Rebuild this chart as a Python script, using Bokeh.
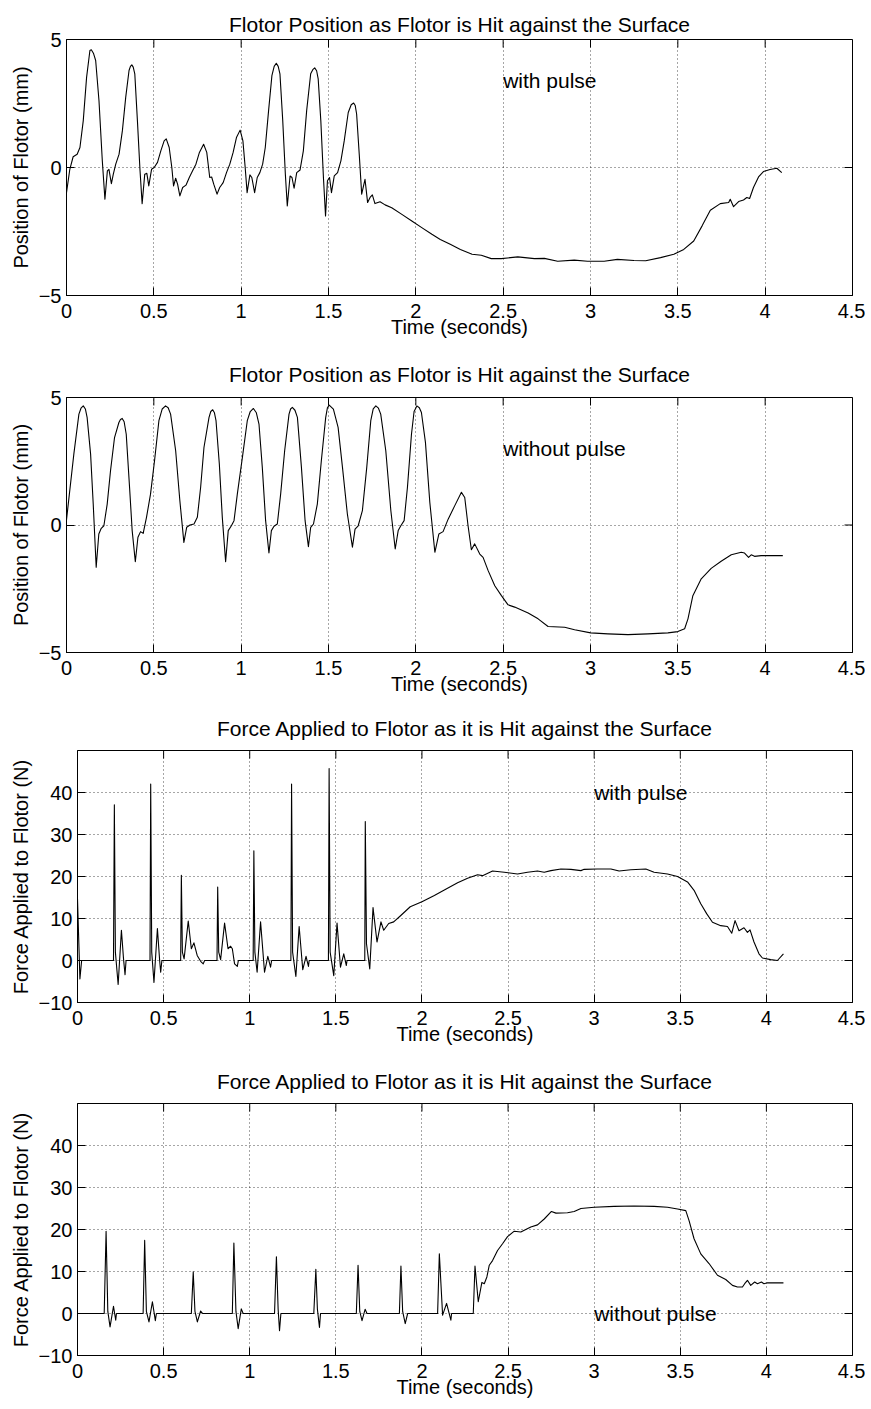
import math
from bokeh.plotting import figure
from bokeh.layouts import column
from bokeh.models import FixedTicker, Range1d, Label
from bokeh.embed import file_html
from bokeh.resources import INLINE

FONT = "Liberation Sans"

# ---------------- data (time in s, value) ----------------
pos_pulse = [
    (0.000, -0.98), (0.019, -0.07), (0.038, 0.42), (0.061, 0.52), (0.077, 0.78), (0.096, 1.83),
    (0.115, 3.52), (0.134, 4.57), (0.142, 4.60), (0.155, 4.45), (0.167, 4.18), (0.186, 2.61), (0.205, 0.26),
    (0.220, -1.24), (0.234, -0.13), (0.243, -0.07), (0.257, -0.63), (0.268, -0.26), (0.282, 0.13),
    (0.301, 0.52), (0.320, 1.44), (0.339, 2.74), (0.358, 3.79), (0.366, 3.95), (0.374, 4.01), (0.382, 3.92),
    (0.391, 3.66),
    (0.406, 1.83), (0.421, -0.13), (0.433, -1.41), (0.448, -0.26), (0.460, -0.23), (0.471, -0.72),
    (0.487, -0.07), (0.502, 0.00), (0.521, 0.20), (0.540, 0.65), (0.559, 1.04), (0.571, 1.12),
    (0.588, 0.78), (0.603, 0.00), (0.613, -0.72), (0.625, -0.42), (0.636, -0.65), (0.649, -1.11),
    (0.665, -0.78), (0.684, -0.69), (0.703, -0.39), (0.722, -0.13), (0.741, 0.13), (0.761, 0.59),
    (0.785, 0.91), (0.803, 0.59), (0.820, -0.39), (0.831, -0.37), (0.843, -0.65), (0.862, -1.04),
    (0.877, -0.78), (0.897, -0.59), (0.916, -0.20), (0.935, 0.13), (0.954, 0.59), (0.973, 1.17),
    (0.994, 1.46), (1.010, 1.04), (1.023, 0.00), (1.034, -0.98), (1.050, -0.29), (1.061, -0.39),
    (1.077, -0.98), (1.092, -0.39), (1.107, -0.20), (1.123, 0.13), (1.138, 0.78), (1.157, 2.22),
    (1.176, 3.59), (1.189, 3.95), (1.201, 4.07), (1.212, 3.95), (1.222, 3.66), (1.238, 1.83),
    (1.253, -0.26), (1.264, -1.50),
    (1.280, -0.33), (1.291, -0.39), (1.303, -0.81), (1.318, -0.20), (1.337, -0.10), (1.356, 0.65),
    (1.375, 2.22), (1.398, 3.66), (1.410, 3.82), (1.421, 3.89), (1.432, 3.78), (1.441, 3.46),
    (1.456, 1.83), (1.471, -0.39),
    (1.483, -1.89), (1.494, -0.52), (1.506, -0.39), (1.517, -0.98), (1.533, -0.33), (1.552, -0.20),
    (1.571, 0.26), (1.590, 1.04), (1.613, 2.15), (1.630, 2.45), (1.644, 2.52), (1.653, 2.42),
    (1.661, 2.09), (1.676, 0.52),
    (1.690, -1.04), (1.709, -0.46), (1.724, -1.37), (1.738, -1.17), (1.751, -1.07), (1.766, -1.41),
    (1.795, -1.34), (1.824, -1.46), (1.862, -1.57), (1.920, -1.83), (1.977, -2.09), (2.034, -2.35),
    (2.092, -2.61), (2.140, -2.81), (2.197, -3.00), (2.255, -3.20), (2.322, -3.39), (2.375, -3.43),
    (2.432, -3.56), (2.489, -3.56), (2.584, -3.49), (2.679, -3.56), (2.736, -3.55), (2.812, -3.66),
    (2.907, -3.62), (2.983, -3.66), (3.078, -3.66), (3.154, -3.59), (3.249, -3.63), (3.316, -3.64),
    (3.401, -3.52), (3.477, -3.39), (3.534, -3.20), (3.591, -2.87), (3.639, -2.28), (3.686, -1.67),
    (3.743, -1.41), (3.791, -1.37), (3.800, -1.24), (3.819, -1.53), (3.848, -1.33), (3.876, -1.27),
    (3.895, -1.17), (3.911, -1.21), (3.933, -0.78), (3.962, -0.37), (3.990, -0.16), (4.028, -0.08),
    (4.067, -0.03), (4.095, -0.20),
]

pos_nopulse = [
    (0.000, 0.20), (0.042, 2.78), (0.071, 4.35), (0.083, 4.58), (0.096, 4.67), (0.108, 4.55),
    (0.118, 4.22), (0.138, 2.78),
    (0.153, 0.82), (0.170, -1.66), (0.185, -0.35), (0.199, -0.13), (0.214, -0.03), (0.233, 0.82),
    (0.252, 2.13), (0.275, 3.43), (0.300, 4.02), (0.309, 4.14), (0.319, 4.18), (0.330, 4.05),
    (0.342, 3.56), (0.361, 1.48),
    (0.376, -0.22), (0.394, -1.44), (0.409, -0.48), (0.424, -0.26), (0.439, -0.33), (0.458, 0.30),
    (0.481, 1.21), (0.504, 2.52), (0.529, 4.09), (0.548, 4.55), (0.567, 4.67), (0.582, 4.60),
    (0.596, 4.35), (0.625, 2.91),
    (0.649, 0.95), (0.672, -0.68), (0.688, -0.09), (0.707, 0.00), (0.730, 0.04), (0.749, 0.30),
    (0.768, 1.48), (0.787, 3.04), (0.816, 4.22), (0.826, 4.45), (0.837, 4.52), (0.847, 4.40),
    (0.856, 4.09), (0.875, 2.39),
    (0.892, 0.30), (0.911, -1.44), (0.926, -0.22), (0.944, -0.03), (0.959, 0.17), (0.978, 1.21),
    (1.007, 2.65), (1.035, 4.09), (1.052, 4.45), (1.070, 4.57), (1.087, 4.40), (1.102, 3.96),
    (1.121, 2.26), (1.140, 0.17),
    (1.159, -1.10), (1.173, -0.22), (1.188, -0.05), (1.207, 0.04), (1.226, 1.21), (1.249, 2.91),
    (1.274, 4.35), (1.283, 4.55), (1.293, 4.61), (1.308, 4.50), (1.322, 4.22), (1.345, 2.26),
    (1.366, 0.17), (1.385, -0.85),
    (1.398, -0.09), (1.414, 0.04), (1.436, 0.82), (1.459, 2.52), (1.484, 4.22), (1.494, 4.60),
    (1.504, 4.70),
    (1.528, 4.54), (1.555, 3.83), (1.580, 2.26), (1.608, 0.43), (1.637, -0.87), (1.652, -0.16),
    (1.670, -0.03), (1.694, 0.56), (1.719, 2.26), (1.742, 4.09), (1.756, 4.55), (1.771, 4.67),
    (1.786, 4.58), (1.799, 4.35),
    (1.828, 2.91), (1.857, 0.56), (1.882, -0.94), (1.899, -0.22), (1.914, -0.03), (1.933, 0.17),
    (1.952, 1.48), (1.975, 3.56), (1.990, 4.45), (2.006, 4.67), (2.020, 4.60), (2.032, 4.41),
    (2.055, 3.24), (2.080, 0.89),
    (2.109, -1.07), (2.132, -0.35), (2.156, -0.26), (2.185, 0.23), (2.223, 0.76), (2.261, 1.28),
    (2.280, 1.08), (2.299, -0.03), (2.318, -0.97), (2.337, -0.74), (2.366, -1.14), (2.385, -1.27),
    (2.414, -1.79), (2.452, -2.38), (2.490, -2.77), (2.528, -3.13), (2.566, -3.22), (2.643, -3.45),
    (2.700, -3.68), (2.757, -3.98), (2.852, -4.01), (2.909, -4.11), (3.001, -4.23), (3.100, -4.27),
    (3.214, -4.30), (3.329, -4.27), (3.443, -4.23), (3.500, -4.18), (3.539, -4.07), (3.558, -3.68),
    (3.586, -2.77), (3.634, -2.11), (3.691, -1.70), (3.748, -1.42), (3.806, -1.17), (3.863, -1.07),
    (3.882, -1.10), (3.905, -1.27), (3.920, -1.17), (3.939, -1.23), (3.977, -1.20), (4.101, -1.20),
]

force_pulse = [
    (0.000, 14.7), (0.014, -4.4), (0.024, 0.0), (0.209, 0.0), (0.214, 37.1), (0.220, 2.0),
    (0.236, -5.7), (0.255, 7.2), (0.267, 0.5), (0.276, -3.4), (0.282, 0.0), (0.421, 0.0),
    (0.425, 42.0), (0.431, 2.0), (0.444, -5.2), (0.464, 7.6), (0.477, 0.0), (0.483, -2.8),
    (0.490, 0.0), (0.599, 0.0), (0.603, 20.3), (0.609, 2.0), (0.619, 0.4), (0.643, 9.4),
    (0.661, 2.8), (0.676, 4.2), (0.695, 1.2), (0.715, -0.2), (0.730, -0.8), (0.738, 0.0),
    (0.810, 0.0), (0.814, 17.5), (0.820, 2.0), (0.831, 0.2), (0.854, 8.9), (0.874, 2.8),
    (0.889, 3.4), (0.899, 2.8), (0.912, -0.8), (0.928, -1.4), (0.934, 0.0), (1.020, 0.0),
    (1.024, 26.1), (1.030, 2.0), (1.043, -2.8), (1.063, 9.2), (1.086, -2.8), (1.105, 1.0),
    (1.121, -1.6), (1.127, 0.0), (1.239, 0.0), (1.243, 42.0), (1.249, 2.0), (1.268, -3.8),
    (1.287, 8.1), (1.308, -2.2), (1.327, 1.0), (1.341, -1.4), (1.345, 0.0), (1.457, 0.0),
    (1.461, 45.7), (1.467, 2.0), (1.488, -3.6), (1.507, 8.9), (1.527, -1.6), (1.546, 1.6),
    (1.561, -1.2), (1.565, 0.0), (1.668, 0.0), (1.671, 33.1), (1.678, 4.0), (1.697, -2.0),
    (1.716, 12.6), (1.739, 4.4), (1.762, 9.2), (1.778, 7.2), (1.807, 8.8), (1.836, 9.2),
    (1.874, 10.6), (1.932, 12.8), (2.000, 14.0), (2.072, 15.5), (2.130, 16.8), (2.207, 18.5),
    (2.265, 19.6), (2.323, 20.4), (2.352, 20.2), (2.410, 21.3), (2.478, 21.0), (2.555, 20.6),
    (2.613, 21.0), (2.671, 21.3), (2.710, 21.0), (2.749, 21.4), (2.807, 21.8), (2.865, 21.7),
    (2.923, 21.4), (2.942, 21.7), (3.019, 21.8), (3.097, 21.8), (3.145, 21.3), (3.213, 21.6),
    (3.300, 21.8), (3.348, 21.0), (3.426, 20.6), (3.484, 20.0), (3.542, 18.7), (3.580, 16.7),
    (3.619, 13.5), (3.654, 11.1), (3.687, 9.1), (3.735, 8.3), (3.774, 8.1), (3.799, 6.5),
    (3.818, 9.5), (3.841, 7.1), (3.870, 7.8), (3.890, 6.7), (3.905, 7.3), (3.928, 4.4),
    (3.957, 1.6), (3.977, 0.6), (4.025, 0.2), (4.064, 0.0), (4.099, 1.6),
]

force_nopulse = [
    (0.000, 0.0), (0.155, 0.0), (0.166, 19.6), (0.176, 0.5), (0.189, -3.2), (0.209, 1.7),
    (0.222, -1.6), (0.226, 0.0), (0.381, 0.0), (0.390, 17.4), (0.400, 0.5), (0.415, -2.0),
    (0.435, 2.8), (0.452, -1.7), (0.458, 0.0), (0.661, 0.0), (0.672, 9.9), (0.682, 0.5),
    (0.696, -2.0), (0.715, 0.6), (0.727, 0.0), (0.899, 0.0), (0.908, 16.8), (0.920, 0.5),
    (0.933, -3.6), (0.951, 1.1), (0.962, 0.0), (1.144, 0.0), (1.155, 13.5), (1.165, 1.0),
    (1.173, -4.1), (1.181, 0.0), (1.372, 0.0), (1.384, 10.5), (1.393, 1.0), (1.405, -3.3),
    (1.411, 0.0), (1.619, 0.0), (1.629, 11.5), (1.639, 0.5), (1.652, -1.7), (1.670, 1.0),
    (1.681, 0.0), (1.869, 0.0), (1.878, 11.3), (1.888, 0.5), (1.903, -2.4), (1.917, 0.0),
    (2.091, 0.0), (2.101, 14.2), (2.120, -0.4), (2.143, 2.4), (2.168, -1.6), (2.172, 0.0),
    (2.298, 0.0), (2.308, 11.3), (2.327, 2.8), (2.348, 7.4), (2.362, 7.1), (2.377, 8.7),
    (2.391, 11.5), (2.410, 12.6), (2.439, 15.0), (2.468, 16.6), (2.497, 18.3), (2.536, 19.6),
    (2.574, 19.4), (2.632, 20.6), (2.671, 21.1), (2.710, 22.5), (2.752, 24.3), (2.778, 23.9),
    (2.845, 24.0), (2.884, 24.3), (2.923, 25.0), (3.000, 25.3), (3.116, 25.5), (3.232, 25.6),
    (3.348, 25.5), (3.426, 25.3), (3.484, 24.9), (3.532, 24.5), (3.551, 22.1), (3.580, 17.8),
    (3.619, 14.2), (3.667, 11.9), (3.716, 9.1), (3.764, 8.1), (3.803, 6.7), (3.832, 6.3),
    (3.861, 6.3), (3.874, 7.1), (3.890, 7.9), (3.909, 6.7), (3.932, 7.5), (3.948, 7.1),
    (3.971, 7.5), (3.986, 7.1), (4.006, 7.3), (4.099, 7.3),
]

x_ticks = [0, 0.5, 1, 1.5, 2, 2.5, 3, 3.5, 4, 4.5]
x_tick_labels = ["0", "0.5", "1", "1.5", "2", "2.5", "3", "3.5", "4", "4.5"]
pos_ticks = [-5, 0, 5]
pos_tick_labels = ["\u22125", "0", "5"]
force_ticks = [-10, 0, 10, 20, 30, 40]
force_tick_labels = ["\u221210", "0", "10", "20", "30", "40"]

title_pos = "Flotor Position as Flotor is Hit against the Surface"
title_force = "Force Applied to Flotor as it is Hit against the Surface"
ylabel_pos = "Position of Flotor (mm)"
ylabel_force = "Force Applied to Flotor (N)"
xlabel = "Time (seconds)"


def panel(data, title, ylabel, yticks, ylabels, yrange, note, note_x, note_y,
          left, top, frame_h, bottom, title_standoff):
    frame_w = 852 - left
    p = figure(frame_width=frame_w, frame_height=frame_h,
               x_range=Range1d(0, 4.5), y_range=Range1d(*yrange),
               output_backend="svg", toolbar_location=None,
               min_border_left=left, min_border_right=13,
               min_border_top=top, min_border_bottom=bottom,
               title=title, frame_align=False)
    p.background_fill_color = "white"
    p.border_fill_color = "white"
    p.outline_line_color = "black"
    p.outline_line_width = 1

    p.title.text_font = FONT
    p.title.text_font_size = "21px"
    p.title.text_font_style = "normal"
    p.title.text_color = "black"
    p.title.align = "center"
    p.title.standoff = title_standoff

    ax = p.xaxis[0]
    ax.ticker = FixedTicker(ticks=x_ticks)
    ax.major_label_overrides = dict(zip(x_ticks, x_tick_labels))
    ax.axis_label = xlabel
    ay = p.yaxis[0]
    ay.ticker = FixedTicker(ticks=yticks)
    ay.major_label_overrides = dict(zip(yticks, ylabels))
    ay.axis_label = ylabel
    for a in (ax, ay):
        a.major_label_text_font = FONT
        a.major_label_text_font_size = "20px"
        a.major_label_text_color = "black"
        a.axis_label_text_font = FONT
        a.axis_label_text_font_size = "20px"
        a.axis_label_text_font_style = "normal"
        a.axis_label_text_color = "black"
        a.major_tick_in = 8
        a.major_tick_out = 0
        a.minor_tick_line_color = None
        a.axis_line_color = "black"
        a.major_tick_line_color = "black"
    ax.major_label_standoff = 8
    ax.axis_label_standoff = -5
    ay.major_label_standoff = 5
    ay.axis_label_standoff = 4

    p.xgrid.ticker = FixedTicker(ticks=x_ticks)
    p.ygrid.ticker = FixedTicker(ticks=yticks)
    for g in (p.xgrid[0], p.ygrid[0]):
        g.grid_line_color = "black"
        g.grid_line_alpha = 0.7
        g.grid_line_dash = "1 3"
        g.grid_line_width = 1

    # inward ticks on the top and right edges of the box
    p.ray(x=x_ticks, y=[yrange[1]] * len(x_ticks), length=8, length_units="screen",
          angle=-math.pi / 2, line_color="black", line_width=1)
    p.ray(x=[4.5] * len(yticks), y=yticks, length=8, length_units="screen",
          angle=math.pi, line_color="black", line_width=1)

    t = [d[0] for d in data]
    v = [d[1] for d in data]
    p.line(t, v, line_color="black", line_width=1.1, line_join="round")

    p.add_layout(Label(x=note_x, y=note_y, text=note, text_font=FONT,
                       text_font_size="21px", text_color="black",
                       text_align="left", text_baseline="middle"))
    return p


p1 = panel(pos_pulse, title_pos, ylabel_pos, pos_ticks, pos_tick_labels, (-5, 5),
           "with pulse", 2.5, 3.4, left=66, top=39, frame_h=256, bottom=50, title_standoff=7)
p2 = panel(pos_nopulse, title_pos, ylabel_pos, pos_ticks, pos_tick_labels, (-5, 5),
           "without pulse", 2.5, 3.0, left=66, top=52, frame_h=255, bottom=50, title_standoff=23)
p3 = panel(force_pulse, title_force, ylabel_force, force_ticks, force_tick_labels, (-10, 50),
           "with pulse", 3.0, 40, left=77, top=48, frame_h=252, bottom=50, title_standoff=22)
p4 = panel(force_nopulse, title_force, ylabel_force, force_ticks, force_tick_labels, (-10, 50),
           "without pulse", 3.0, 0, left=77, top=51, frame_h=252, bottom=52, title_standoff=22)

layout = column(p1, p2, p3, p4, spacing=0)
open("out.html", "w").write(file_html(layout, INLINE))
